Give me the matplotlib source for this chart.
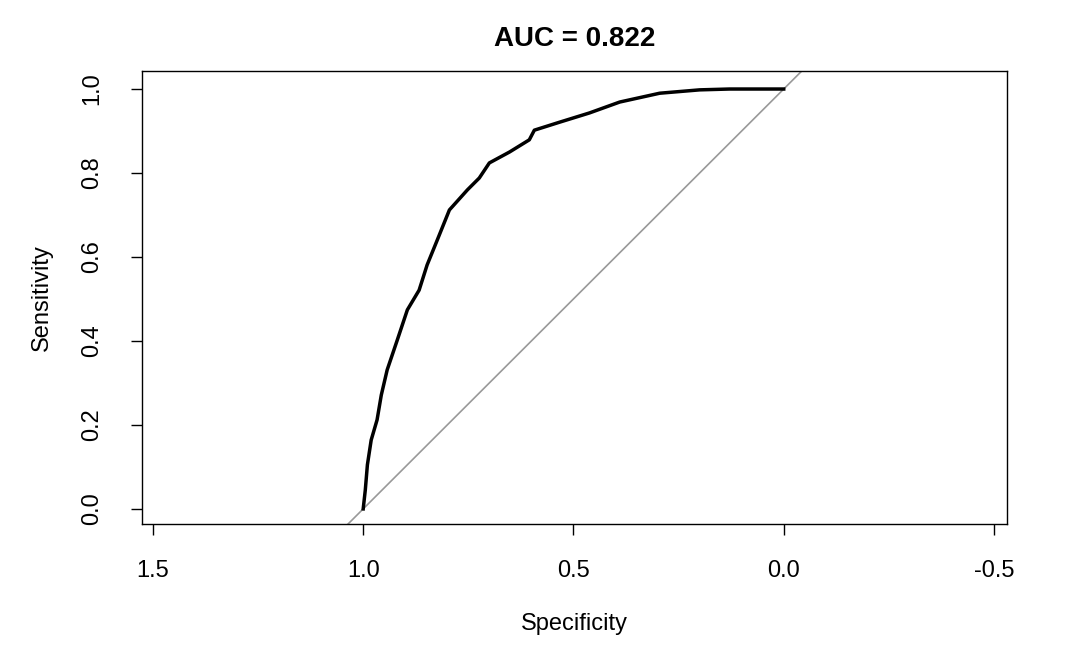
import matplotlib.pyplot as plt
import numpy as np

plt.rcParams['font.family'] = ['Liberation Sans', 'DejaVu Sans']

# ROC curve
specificity = [1.0, 0.995, 0.99, 0.981, 0.967, 0.957, 0.943, 0.919, 0.895, 0.867,
               0.848, 0.824, 0.795, 0.752, 0.724, 0.70, 0.652, 0.605, 0.593, 0.533,
               0.462, 0.39, 0.295, 0.20, 0.129, 0.0]
sensitivity = [0.0, 0.045, 0.105, 0.164, 0.212, 0.271, 0.331, 0.402, 0.474, 0.521,
               0.581, 0.640, 0.712, 0.760, 0.788, 0.824, 0.85, 0.879, 0.902, 0.921,
               0.943, 0.969, 0.99, 0.998, 1.0, 1.0]
auc = 0.822
xticks = [1.5, 1.0, 0.5, 0.0, -0.5]
yticks = [0.0, 0.2, 0.4, 0.6, 0.8, 1.0]

fig = plt.figure(figsize=(10.79, 6.67), dpi=100)
ax = fig.add_axes([0.1316, 0.2144, 0.8017, 0.6792])

ax.axline((1, 0), (0, 1), color='#999999', lw=1.2)
ax.plot(specificity, sensitivity, color='black', lw=2.5)

ax.set_xlim(1.526, -0.531)
ax.set_ylim(-0.036, 1.043)
ax.set_xticks(xticks)
ax.set_xticklabels([f'{v:.1f}' for v in xticks])
ax.set_yticks(yticks)
ax.set_yticklabels([f'{v:.1f}' for v in yticks], rotation=90, va='center')
ax.tick_params(labelsize=17, length=8, width=1)
ax.tick_params(axis='x', pad=18)
ax.tick_params(axis='y', pad=20)
for s in ax.spines.values():
    s.set_linewidth(1)

ax.set_xlabel('Specificity', fontsize=17, labelpad=22)
ax.set_ylabel('Sensitivity', fontsize=17, labelpad=20)
ax.set_title(f'AUC = {auc:.3f}', fontsize=20, fontweight='bold', pad=18)

fig.savefig('out.png', dpi=100)
